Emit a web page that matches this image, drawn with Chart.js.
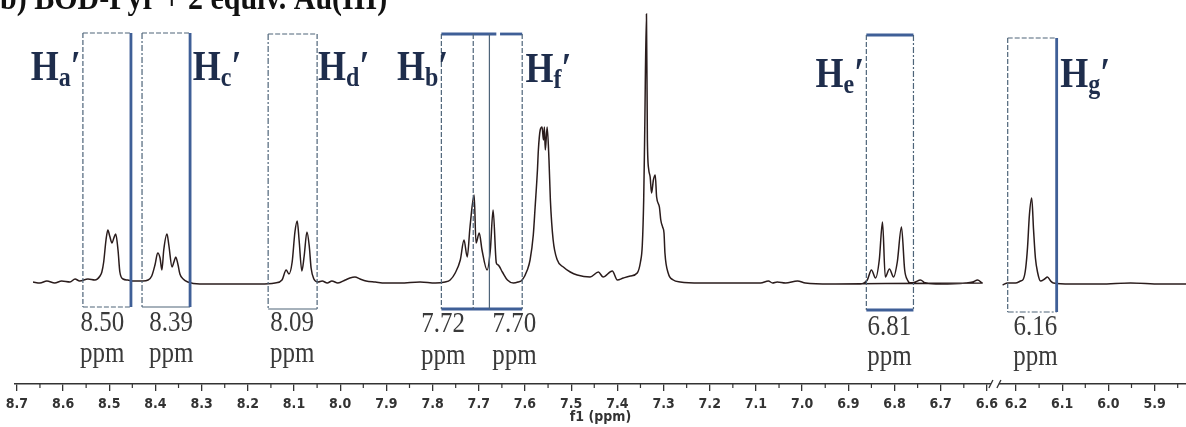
<!DOCTYPE html>
<html><head><meta charset="utf-8">
<script src="https://cdn.jsdelivr.net/npm/chart.js@4.4.1/dist/chart.umd.min.js"></script>
<style>html,body{margin:0;padding:0;background:#fff;}#wrap{width:1186px;height:427px;position:relative;}</style>
</head><body><div id="wrap"><canvas id="c"></canvas></div>
<script>
// ---- data ----
// upper part of the spectrum (8.7 - 6.6 ppm)
const specAppm = [8.665,8.650,8.635,8.618,8.603,8.585,8.574,8.564,8.546,8.531,8.520,8.516,8.512,8.507,8.503,8.499,8.494,8.490,8.486,8.481,8.477,8.470,8.460,8.449,8.438,8.427,8.416,8.408,8.401,8.395,8.390,8.386,8.382,8.375,8.371,8.364,8.360,8.356,8.351,8.347,8.340,8.330,8.304,8.239,8.174,8.141,8.126,8.117,8.111,8.104,8.098,8.093,8.089,8.083,8.078,8.072,8.067,8.063,8.057,8.048,8.039,8.028,8.018,8.005,7.989,7.979,7.968,7.957,7.944,7.924,7.903,7.870,7.827,7.794,7.773,7.762,7.751,7.740,7.732,7.725,7.719,7.710,7.706,7.699,7.693,7.682,7.675,7.669,7.662,7.658,7.649,7.638,7.625,7.615,7.606,7.595,7.589,7.582,7.578,7.573,7.571,7.567,7.563,7.560,7.558,7.556,7.552,7.548,7.545,7.539,7.530,7.517,7.502,7.487,7.459,7.441,7.431,7.411,7.400,7.387,7.372,7.357,7.350,7.346,7.343,7.341,7.337,7.335,7.332,7.329,7.326,7.322,7.318,7.315,7.309,7.306,7.302,7.299,7.297,7.290,7.279,7.264,7.220,7.155,7.090,7.073,7.064,7.054,7.036,7.010,6.993,6.939,6.874,6.859,6.850,6.841,6.833,6.826,6.820,6.811,6.802,6.794,6.785,6.778,6.772,6.765,6.755,6.744,6.733,6.700,6.646,6.631,6.620,6.609,6.590];
const specAint = [2,1,3,1,3,2,5,3,5,4,8,12,22,44,54,48,41,46,50,34,12,5,4,3,3,3,4,8,19,31,26,14,34,50,39,17,22,27,19,10,5,2,0,0,0,1,4,14,10,22,52,63,44,13,28,52,38,16,5,2,3,1,3,1,4,6,7,5,3,2,1,1,2,1,2,4,11,24,44,27,57,89,41,51,34,14,34,74,21,19,12,4,1,2,4,14,24,49,77,114,134,154,157,144,157,134,157,124,84,44,24,17,12,9,7,12,7,13,4,6,8,11,22,39,84,144,270,144,114,107,91,104,109,87,77,64,57,51,31,11,4,2,1,1,1,3,1,2,1,3,1,0,0,4,14,6,24,62,7,15,7,22,57,14,4,1,2,4,1,0,1,2,4,1,0];
// lower part of the spectrum (6.2 - 5.8 ppm)
const specBppm = [6.229,6.218,6.201,6.190,6.184,6.179,6.175,6.171,6.166,6.162,6.158,6.153,6.147,6.138,6.132,6.125,6.119,6.082,6.017,5.952,5.887,5.831];
const specBint = [-1,1,1,3,5,16,37,69,86,54,26,11,3,5,7,3,1,0,0,1,0,0];

const tickPpm = [8.7,8.6,8.5,8.4,8.3,8.2,8.1,8.0,7.9,7.8,7.7,7.6,7.5,7.4,7.3,7.2,7.1,7.0,6.9,6.8,6.7,6.6,6.2,6.1,6.0,5.9];
const tickLabels = ['8.7','8.6','8.5','8.4','8.3','8.2','8.1','8.0','7.9','7.8','7.7','7.6','7.5','7.4','7.3','7.2','7.1','7.0','6.9','6.8','6.7','6.6','6.2','6.1','6.0','5.9'];
const minorTickPpm = [8.65,8.55,8.45,8.35,8.25,8.15,8.05,7.95,7.85,7.75,7.65,7.55,7.45,7.35,7.25,7.15,7.05,6.95,6.85,6.75,6.65,6.15,6.05,5.95,5.85];

const shiftLabels = ['8.50','8.39','8.09','7.72','7.70','6.81','6.16'];
const protonSubs = ['a','c','d','b','f','e','g'];
const chartTitle = 'b) BOD-Pyr + 2 equiv. Au(III)';
const axisTitle = 'f1 (ppm)';

// ---- broken ppm axis: 8.7..6.6 then 6.2..5.8 ----
const BREAK_HI = 6.6, BREAK_LO = 6.2, BREAK_GAP = 0.063, PPM_START = 8.7;
function toU(ppm){
  return ppm >= BREAK_HI - 1e-9 ? PPM_START - ppm : (PPM_START - BREAK_HI) + BREAK_GAP + (BREAK_LO - ppm);
}

const THIN = '#4e6479', THICK = '#3f5f97';
const DASH = {solid:[], dash:[5,2], dashdot:[6,2,2,2]};
function V(x, y1, y2, dash, thick){ return {x1:x, x2:x, y1:y1, y2:y2, dash:dash, thick:thick}; }
function Hl(x1, x2, y, dash, thick){ return {x1:x1, x2:x2, y1:y, y2:y, dash:dash, thick:thick}; }

const boxLines = [
  // Ha'
  Hl(8.557, 8.453, 251, 'dash'), V(8.557, 251, -23, 'dash'), Hl(8.557, 8.453, -23, 'dash'), V(8.453, 251, -23, 'solid', true),
  // Hc'
  Hl(8.429, 8.325, 251, 'dash'), V(8.429, 251, -23, 'dashdot'), Hl(8.429, 8.325, -23, 'solid'), V(8.325, 251, -23, 'solid', true),
  // Hd'
  Hl(8.156, 8.050, 250, 'dash'), V(8.156, 250, -25, 'dashdot'), Hl(8.156, 8.050, -25, 'solid'), V(8.050, 250, -25, 'dash'),
  // Hb' / Hf'
  Hl(7.781, 7.662, 250, 'solid', true), Hl(7.654, 7.606, 250, 'solid', true), Hl(7.781, 7.606, -25, 'solid', true),
  V(7.781, 250, -25, 'dash'), V(7.712, 250, -25, 'dash'), V(7.677, 250, -25, 'solid'), V(7.606, 250, -25, 'dash'),
  // He'
  Hl(6.861, 6.759, 249, 'solid', true), Hl(6.861, 6.759, -26, 'solid', true), V(6.861, 249, -26, 'dash'), V(6.759, 249, -26, 'dashdot'),
  // Hg'
  Hl(6.218, 6.112, 246, 'dash'), Hl(6.218, 6.112, -28, 'dashdot'), V(6.218, 246, -28, 'dash'), V(6.112, 246, -28, 'solid', true)
];
const protonAnchors = [[8.670,204],[8.319,204],[8.048,204],[7.877,204],[7.599,202],[6.971,197],[6.104,197]];
const shiftAnchors = [[8.515,-47,-78],[8.366,-47,-78],[8.104,-47,-78],[7.777,-48,-80],[7.623,-48,-80],[6.811,-51,-81],[6.158,-51,-81]];

function stretchText(ctx, text, x, y, font, align, sy, color){
  ctx.save(); ctx.translate(x, y); ctx.scale(1, sy);
  ctx.font = font; ctx.textAlign = align; ctx.textBaseline = 'alphabetic'; ctx.fillStyle = color;
  ctx.fillText(text, 0, 0); ctx.restore();
}

const annotPlugin = {
  id: 'annot',
  afterDatasetsDraw(chart){
    const {ctx} = chart; const xs = chart.scales.x, ys = chart.scales.y;
    const px = p => xs.getPixelForValue(toU(p));
    const py = v => ys.getPixelForValue(v);
    ctx.save();
    boxLines.forEach(l => {
      ctx.beginPath();
      ctx.strokeStyle = l.thick ? THICK : THIN;
      ctx.lineWidth = l.thick ? 2.8 : 1.2;
      ctx.setLineDash(DASH[l.dash]);
      ctx.moveTo(px(l.x1), py(l.y1)); ctx.lineTo(px(l.x2), py(l.y2)); ctx.stroke();
    });
    ctx.setLineDash([]);
    // proton labels
    protonSubs.forEach((s, i) => {
      const x = px(protonAnchors[i][0]), y = py(protonAnchors[i][1]);
      const fH = "bold 36px 'Liberation Serif','Times New Roman',serif";
      const fS = "bold 24px 'Liberation Serif','Times New Roman',serif";
      ctx.font = fH; const wH = ctx.measureText('H').width;
      ctx.font = fS; const wS = ctx.measureText(s).width;
      stretchText(ctx, 'H', x, y, fH, 'left', 1.15, '#1e2d4c');
      stretchText(ctx, s, x + wH, y + 6, fS, 'left', 1.15, '#1e2d4c');
      stretchText(ctx, '\u2032', x + wH + wS, y, fH, 'left', 1.15, '#1e2d4c');
    });
    // chemical shift labels
    shiftLabels.forEach((t, i) => {
      const x = px(shiftAnchors[i][0]);
      const f = "25px 'Liberation Serif','Times New Roman',serif";
      stretchText(ctx, t, x, py(shiftAnchors[i][1]), f, 'center', 1.15, '#3a3a3a');
      stretchText(ctx, 'ppm', x, py(shiftAnchors[i][2]), f, 'center', 1.15, '#3a3a3a');
    });
    ctx.restore();
  },
  afterDraw(chart){
    const {ctx} = chart; const xs = chart.scales.x; const yb = chart.chartArea.bottom;
    ctx.save();
    ctx.strokeStyle = '#333'; ctx.lineWidth = 1.2;
    minorTickPpm.forEach(p => {
      const x = xs.getPixelForValue(toU(p));
      ctx.beginPath(); ctx.moveTo(x, yb); ctx.lineTo(x, yb + 4); ctx.stroke();
    });
    // axis break
    const xb = xs.getPixelForValue(toU(BREAK_HI)) + 8;
    ctx.fillStyle = '#fff'; ctx.fillRect(xb - 4, yb - 3, 8, 6);
    ctx.lineWidth = 1.3;
    [-4, 4].forEach(d => { ctx.beginPath(); ctx.moveTo(xb + d - 2, yb + 4); ctx.lineTo(xb + d + 2, yb - 4); ctx.stroke(); });
    // chart caption (cut at top like in the figure)
    stretchText(ctx, chartTitle, 0, 9, "bold 30px 'Liberation Serif','Times New Roman',serif", 'left', 1.1, '#111');
    ctx.restore();
  }
};

const toPts = (pp, ii) => pp.map((p, i) => ({x: toU(p), y: ii[i]}));
const lineStyle = {borderColor:'#2a1c1c', borderWidth:1.5, pointRadius:0, fill:false, cubicInterpolationMode:'monotone'};

new Chart(document.getElementById('c'), {
  type: 'line',
  data: { datasets: [
    Object.assign({label:'spectrum 8.7-6.6', data: toPts(specAppm, specAint)}, lineStyle),
    Object.assign({label:'spectrum 6.2-5.8', data: toPts(specBppm, specBint)}, lineStyle)
  ]},
  options: {
    responsive: true, maintainAspectRatio: false, animation: false,
    layout: {padding: {left: 15, right: 0, top: 0, bottom: 0}},
    plugins: {legend: {display: false}, tooltip: {enabled: false}},
    scales: {
      x: {
        type: 'linear', min: toU(8.704), max: toU(5.832),
        afterBuildTicks: s => { s.ticks = tickPpm.map(p => ({value: toU(p)})); },
        afterFit: s => { s.height = 43; },
        ticks: {autoSkip: false, maxRotation: 0, padding: 5, color: '#333',
          font: {family: "'Liberation Sans Narrow','DejaVu Sans Condensed',sans-serif", weight: 'bold', size: 14},
          callback: (v, i) => tickLabels[i]},
        grid: {drawOnChartArea: false, drawTicks: true, tickLength: 7, color: '#333', lineWidth: 1.3},
        border: {display: true, color: '#333', width: 1.5},
        title: {display: true, text: axisTitle, color: '#333', padding: {top: 0, bottom: 1},
          font: {family: "'Liberation Sans Narrow','DejaVu Sans Condensed',sans-serif", weight: 'bold', size: 14}}
      },
      y: {display: false, min: -100, max: 284}
    }
  },
  plugins: [annotPlugin]
});
</script></body></html>
